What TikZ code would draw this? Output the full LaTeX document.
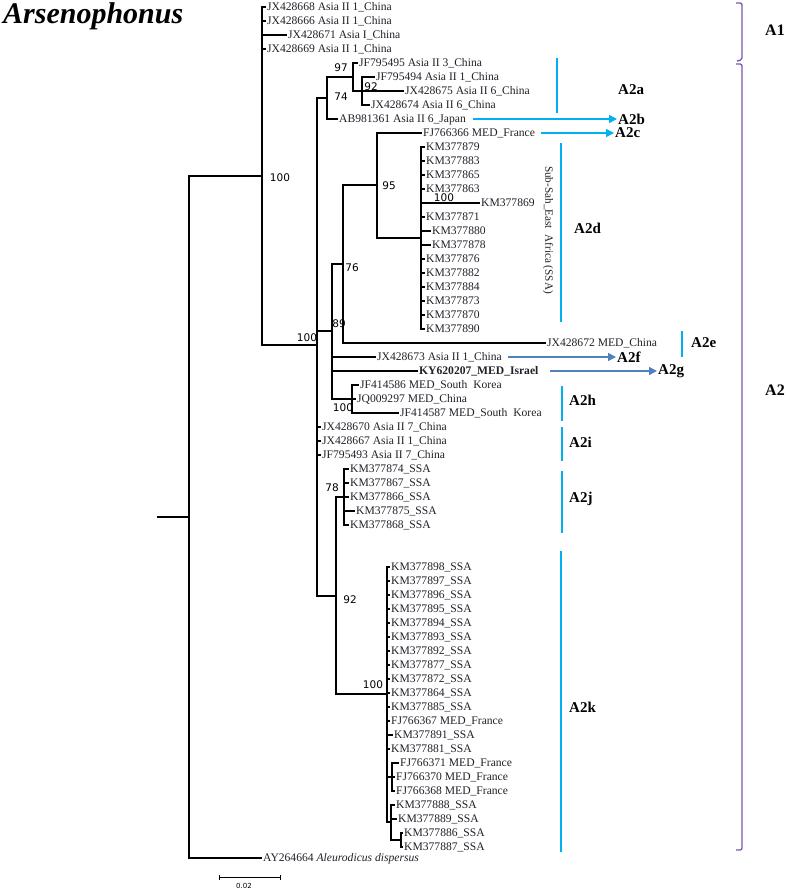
\documentclass[tikz,border=0pt]{standalone}
\usepackage{fontspec}
\setmainfont{Liberation Serif}
\newfontfamily\bootfont{DejaVu Sans}
\usepackage{tikz}
\usetikzlibrary{arrows.meta, calc}
\definecolor{mycyan}{RGB}{0,176,240}
\definecolor{mysteel}{RGB}{79,129,189}
\definecolor{mypurple}{RGB}{125,85,175}
\definecolor{mydark}{RGB}{35,30,40}
\tikzset{
  leaf/.style={anchor=west, inner sep=1pt, text height=7.5pt, text depth=0pt,
    font=\fontsize{11.6}{12}\selectfont, text=mydark},
  boot/.style={inner sep=0pt, font=\bootfont\fontsize{10.5}{11}\selectfont},
  clade/.style={anchor=west, inner sep=0pt, font=\bfseries\fontsize{15}{16}\selectfont},
  branch/.style={line width=1.1pt, color=black},
  cyanline/.style={line width=1.5pt, color=mycyan},
  cyanarrow/.style={-{Triangle[length=8pt, width=8pt]}, line width=1.5pt, color=mycyan},
  steelarrow/.style={-{Triangle[length=8pt, width=8pt]}, line width=1.5pt, color=mysteel},
  bracket/.style={line width=1.3pt, color=mypurple, rounded corners=2pt}
}
\begin{document}
\begin{tikzpicture}[x=1pt, y=-1pt]
  \useasboundingbox (0,0) rectangle (800,890);

  \node[anchor=base west, inner sep=0pt, font=\bfseries\itshape\fontsize{30}{31}\selectfont] (title) at (3,24) {Arsenophonus};

  % internal nodes
  \coordinate (stub) at (157,517);
  \coordinate (root) at (189,517);
  \coordinate (nA) at (262,176);
  \coordinate (nA2) at (317,345);
  \coordinate (n74) at (327,98);
  \coordinate (n97) at (353,77);
  \coordinate (n92) at (362,91);
  \coordinate (n89) at (332,331);
  \coordinate (n76) at (343,264);
  \coordinate (n95) at (377,185);
  \coordinate (n100d) at (421,238);
  \coordinate (n100h) at (352,399);
  \coordinate (n92b) at (336,596);
  \coordinate (n78) at (344,497);
  \coordinate (n100k) at (387,694);
  \coordinate (nFJ) at (392,777);
  \coordinate (nKMb) at (391,822);
  \coordinate (nKMc) at (401,840);

  % leaves
  \foreach \r/\tx/\lab in {0/266/JX428668 Asia II 1\_China, 1/266/JX428666 Asia II 1\_China,
      2/287/JX428671 Asia I\_China, 3/266/JX428669 Asia II 1\_China} {
    \node[leaf] (l\r) at (\tx,{7+14*\r}) {\lab};
    \draw[branch] (nA) |- (l\r.west);
  }
  \node[leaf] (l4) at (358,63) {JF795495 Asia II 3\_China};
  \draw[branch] (n97) |- (l4.west);
  \foreach \r/\tx/\lab in {5/375/JF795494 Asia II 1\_China, 6/404/JX428675 Asia II 6\_China,
      7/370/JX428674 Asia II 6\_China} {
    \node[leaf] (l\r) at (\tx,{7+14*\r}) {\lab};
    \draw[branch] (n92) |- (l\r.west);
  }
  \node[leaf] (l8) at (338,119) {AB981361 Asia II 6\_Japan};
  \draw[branch] (n74) |- (l8.west);
  \node[leaf] (l9) at (422,133) {FJ766366 MED\_France};
  \draw[branch] (n95) |- (l9.west);
  \foreach \r/\tx/\lab in {10/425/KM377879, 11/425/KM377883, 12/425/KM377865, 13/425/KM377863,
      14/480/KM377869, 15/425/KM377871, 16/431/KM377880, 17/431/KM377878, 18/425/KM377876,
      19/425/KM377882, 20/425/KM377884, 21/425/KM377873, 22/425/KM377870, 23/425/KM377890} {
    \node[leaf] (l\r) at (\tx,{7+14*\r}) {\lab};
    \draw[branch] (n100d) |- (l\r.west);
  }
  \node[leaf] (l24) at (546,343) {JX428672 MED\_China};
  \draw[branch] (n76) |- (l24.west);
  \node[leaf] (l25) at (376,357) {JX428673 Asia II 1\_China};
  \draw[branch] (n89) |- (l25.west);
  \node[leaf, font=\bfseries\fontsize{11.6}{12}\selectfont] (l26) at (418,371) {KY620207\_MED\_Israel};
  \draw[branch] (n89) |- (l26.west);
  \foreach \r/\tx/\lab in {27/359/JF414586 MED\_South\ \ Korea, 28/356/JQ009297 MED\_China,
      29/399/JF414587 MED\_South\ \ Korea} {
    \node[leaf] (l\r) at (\tx,{7+14*\r}) {\lab};
    \draw[branch] (n100h) |- (l\r.west);
  }
  \foreach \r/\tx/\lab in {30/321/JX428670 Asia II 7\_China, 31/321/JX428667 Asia II 1\_China,
      32/321/JF795493 Asia II 7\_China} {
    \node[leaf] (l\r) at (\tx,{7+14*\r}) {\lab};
    \draw[branch] (nA2) |- (l\r.west);
  }
  \foreach \r/\tx/\lab in {33/349/KM377874, 34/349/KM377867, 35/349/KM377866, 36/355/KM377875,
      37/349/KM377868} {
    \node[leaf] (l\r) at (\tx,{7+14*\r}) {\lab\_SSA};
    \draw[branch] (n78) |- (l\r.west);
  }
  \foreach \r/\tx/\lab in {40/390/KM377898\_SSA, 41/390/KM377897\_SSA, 42/390/KM377896\_SSA,
      43/390/KM377895\_SSA, 44/390/KM377894\_SSA, 45/390/KM377893\_SSA, 46/390/KM377892\_SSA,
      47/390/KM377877\_SSA, 48/390/KM377872\_SSA, 49/390/KM377864\_SSA, 50/390/KM377885\_SSA,
      51/390/FJ766367 MED\_France, 52/393/KM377891\_SSA, 53/390/KM377881\_SSA} {
    \node[leaf] (l\r) at (\tx,{7+14*\r}) {\lab};
    \draw[branch] (n100k) |- (l\r.west);
  }
  \foreach \r/\tx/\lab in {54/399/FJ766371, 55/395/FJ766370, 56/395/FJ766368} {
    \node[leaf] (l\r) at (\tx,{7+14*\r}) {\lab\ MED\_France};
    \draw[branch] (nFJ) |- (l\r.west);
  }
  \foreach \r/\tx/\lab in {57/395/KM377888, 58/397/KM377889} {
    \node[leaf] (l\r) at (\tx,{7+14*\r}) {\lab\_SSA};
    \draw[branch] (nKMb) |- (l\r.west);
  }
  \foreach \r/\tx/\lab in {59/403/KM377886, 60/403/KM377887} {
    \node[leaf] (l\r) at (\tx,{7+14*\r}) {\lab\_SSA};
    \draw[branch] (nKMc) |- (l\r.west);
  }
  \node[leaf] (out) at (262,858) {AY264664 \textit{Aleurodicus dispersus}};

  % Branches
  \draw[branch] (stub) -- (root);
  \draw[branch] (root) |- (nA);
  \draw[branch] (root) |- (out.west);
  \draw[branch] (nA) |- (nA2);
  \draw[branch] (nA2) |- (n74);
  \draw[branch] (nA2) |- (n89);
  \draw[branch] (nA2) |- (n92b);
  \draw[branch] (n74) |- (n97);
  \draw[branch] (n97) |- (n92);
  \draw[branch] (n89) |- (n76);
  \draw[branch] (n76) |- (n95);
  \draw[branch] (n95) |- (n100d);
  \draw[branch] (n89) |- (n100h);
  \draw[branch] (n92b) |- (n78);
  \draw[branch] (n92b) |- (n100k);
  \draw[branch] (n100k) |- (nFJ);
  \draw[branch] (n100k) |- (nKMb);
  \draw[branch] (nKMb) |- (nKMc);

  % Bootstrap values
  \node[boot] (bA) at (280,178) {100};
  \node[boot] (b97) at (341,68) {97};
  \node[boot] (b92) at (371,87) {92};
  \node[boot] (b74) at (341,97) {74};
  \node[boot] (b95) at (389,186) {95};
  \node[boot] (b100d) at (444,198) {100};
  \node[boot] (b76) at (352,268) {76};
  \node[boot] (b89) at (339,324) {89};
  \node[boot] (bA2) at (307,338) {100};
  \node[boot] (b100h) at (343,408) {100};
  \node[boot] (b78) at (332,488) {78};
  \node[boot] (b92b) at (350,600) {92};
  \node[boot] (b100k) at (373,685) {100};

  % Scale bar
  \coordinate (sbl) at (219,877);
  \coordinate (sbr) at (280,877);
  \draw[line width=1pt] ([yshift=-3pt]sbl) -- ([yshift=2pt]sbl) (sbl) -- (sbr) ([yshift=-3pt]sbr) -- ([yshift=2pt]sbr);
  \node[boot, font=\bootfont\fontsize{7}{8}\selectfont] (scale) at (244,886) {0.02};

  % Clade labels
  \node[clade, font=\bfseries\fontsize{16}{17}\selectfont] (A1) at (765,30) {A1};
  \node[clade, font=\bfseries\fontsize{16}{17}\selectfont] (A2) at (765,390) {A2};
  \node[clade] (A2a) at (618,90) {A2a};
  \node[clade] (A2b) at (618,119) {A2b};
  \node[clade] (A2c) at (615,133) {A2c};
  \node[clade] (A2d) at (574,228) {A2d};
  \node[clade] (A2e) at (691,343) {A2e};
  \node[clade] (A2f) at (617,357) {A2f};
  \node[clade] (A2g) at (658,371) {A2g};
  \node[clade] (A2h) at (569,400) {A2h};
  \node[clade] (A2i) at (569,442) {A2i};
  \node[clade] (A2j) at (569,499) {A2j};
  \node[clade] (A2k) at (569,707) {A2k};
  \node[rotate=-90, inner sep=0pt, font=\fontsize{11.2}{12}\selectfont, text=mydark] (ssa) at (548,230) {Sub-Sah\_East\ \ Africa (SSA)};

  % Cyan marks and arrows
  \draw[cyanline] (557,58) -- (557,113);
  \draw[cyanarrow] ([xshift=6pt]l8.east) -- ([xshift=-1pt]A2b.west);
  \draw[cyanarrow] ([xshift=5pt]l9.east) -- ([xshift=-1pt]A2c.west);
  \draw[cyanline] (561,143) -- (561,322);
  \draw[cyanline] (682,331) -- (682,357);
  \draw[steelarrow] ([xshift=5pt]l25.east) -- ([xshift=-1pt]A2f.west);
  \draw[steelarrow] ([xshift=10pt]l26.east) -- ([xshift=-1pt]A2g.west);
  \draw[cyanline] (562,386) -- (562,421);
  \draw[cyanline] (562,427) -- (562,461);
  \draw[cyanline] (562,471) -- (562,533);
  \draw[cyanline] (561,551) -- (561,852);

  % Purple brackets
  \draw[bracket] (736,3) -- (742,3) -- (742,60) -- (737,61);
  \draw[bracket] (736,64) -- (742,64) -- (742,850) -- (736,850);
\end{tikzpicture}
\end{document}
